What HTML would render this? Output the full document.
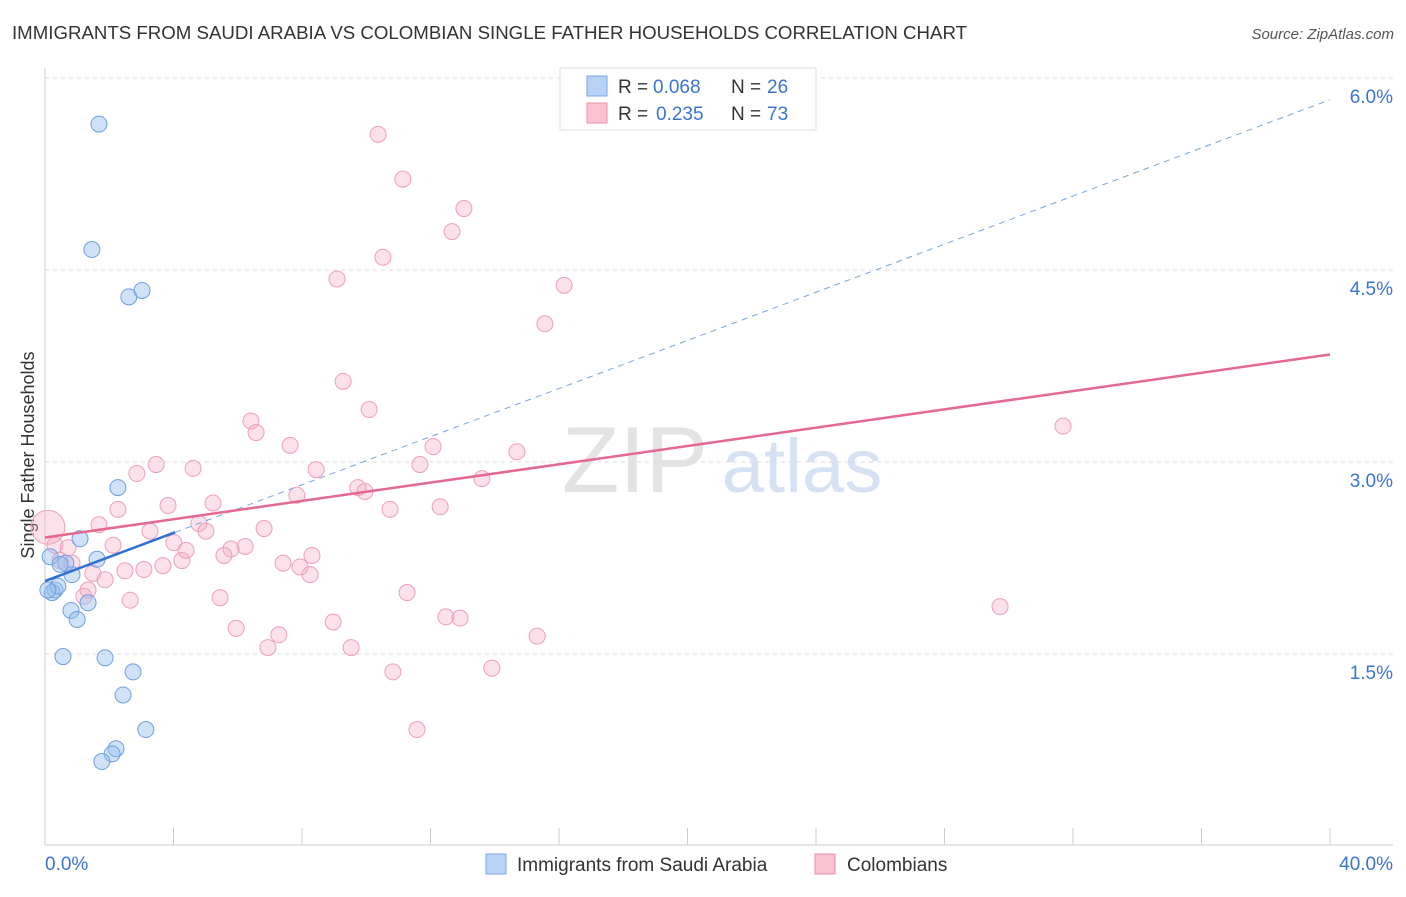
<!DOCTYPE html>
<html><head><meta charset="utf-8"><style>
body{margin:0;background:#fff;font-family:"Liberation Sans",sans-serif;}
svg text{font-family:"Liberation Sans",sans-serif;}
</style></head><body>
<svg id="c" width="1406" height="892">
<text x="12" y="39" font-size="18" fill="#333" textLength="955" lengthAdjust="spacingAndGlyphs">IMMIGRANTS FROM SAUDI ARABIA VS COLOMBIAN SINGLE FATHER HOUSEHOLDS CORRELATION CHART</text>
<text x="1394" y="39" font-size="15" fill="#555" text-anchor="end" font-style="italic">Source: ZipAtlas.com</text>
<text x="635" y="492" font-size="94" fill="#e3e3e3" font-family="Liberation Serif" text-anchor="middle">ZIP</text>
<text x="802" y="492" font-size="76" fill="#d6e2f3" text-anchor="middle">atlas</text>
<text transform="translate(34,455) rotate(-90)" font-size="18" fill="#333" text-anchor="middle">Single Father Households</text>
<g id="grid"></g><g id="pts"></g><g id="lines"></g>
<g>
<rect x="560" y="68" width="256" height="62" fill="#fff" stroke="#ddd"/>
<rect x="587" y="76" width="20" height="20" fill="#b8d3f5" stroke="#7aa7e0"/>
<rect x="587" y="103" width="20" height="20" fill="#f9c3d3" stroke="#ef8fab"/>
<text x="618" y="93" font-size="19" fill="#333">R =</text>
<text x="653" y="93" font-size="19" fill="#3b74d0">0.068</text>
<text x="731" y="93" font-size="19" fill="#333">N =</text>
<text x="767" y="93" font-size="19" fill="#3b74d0">26</text>
<text x="618" y="120" font-size="19" fill="#333">R =</text>
<text x="656" y="120" font-size="19" fill="#3b74d0">0.235</text>
<text x="731" y="120" font-size="19" fill="#333">N =</text>
<text x="767" y="120" font-size="19" fill="#3b74d0">73</text>
</g>
<g>
<rect x="486" y="854" width="20" height="20" fill="#b8d3f5" stroke="#7aa7e0"/>
<text x="517" y="871" font-size="19" fill="#333">Immigrants from Saudi Arabia</text>
<rect x="815" y="854" width="20" height="20" fill="#f9c3d3" stroke="#ef8fab"/>
<text x="847" y="871" font-size="19" fill="#333">Colombians</text>
</g>
</svg>
<script>
const xTicks=[0,4,8,12,16,20,24,28,32,36,40];
const yTicks=[1.5,3.0,4.5,6.0];
const blueX=[1.68,1.46,2.61,3.02,2.27,1.09,1.62,0.65,0.84,0.31,0.22,0.40,0.81,1.34,1.00,0.56,1.87,2.74,2.43,3.14,2.21,2.09,1.77,0.16,0.47,0.09];
const blueY=[5.64,4.66,4.29,4.34,2.80,2.40,2.24,2.21,2.12,2.00,1.98,2.03,1.84,1.90,1.77,1.48,1.47,1.36,1.18,0.91,0.76,0.72,0.66,2.26,2.20,2.00];
const pinkX=[10.37,11.14,13.04,12.67,10.52,9.09,16.16,15.56,9.28,10.09,6.41,6.57,31.69,7.63,12.08,14.69,3.46,4.61,2.86,8.44,11.67,13.60,9.74,9.96,7.84,5.23,3.83,2.27,10.74,12.30,1.68,4.79,3.27,6.82,5.01,4.01,2.12,5.79,6.23,4.39,8.31,5.57,4.26,7.41,3.67,7.94,3.08,2.49,8.25,1.49,1.87,0.31,0.47,1.34,1.21,11.27,2.65,5.45,29.73,12.48,12.92,8.97,5.95,7.28,15.32,6.94,9.53,13.91,10.83,11.58,0.84,0.72,0.09];
const pinkY=[5.56,5.21,4.98,4.80,4.60,4.43,4.38,4.08,3.63,3.41,3.32,3.23,3.28,3.13,3.12,3.08,2.98,2.95,2.91,2.94,2.98,2.87,2.80,2.77,2.74,2.68,2.66,2.63,2.63,2.65,2.51,2.52,2.46,2.48,2.46,2.37,2.35,2.32,2.34,2.31,2.27,2.27,2.23,2.21,2.19,2.18,2.16,2.15,2.12,2.13,2.08,2.35,2.23,2.00,1.95,1.98,1.92,1.94,1.87,1.79,1.78,1.75,1.70,1.65,1.64,1.55,1.55,1.39,1.36,0.91,2.21,2.33,2.49];
const pinkTrend=[2.41,3.84];
const blueTrend=[2.07,5.83];
const blueSolidEnd=4.05;
const X=v=>45+v*1285/40, Y=v=>846-v*128;
const NS="http://www.w3.org/2000/svg";
function mk(t,a,p){const e=document.createElementNS(NS,t);for(const k in a)e.setAttribute(k,a[k]);p.appendChild(e);return e;}
const g=document.getElementById('grid');
mk('line',{x1:45,y1:845,x2:1393,y2:845,stroke:'#ccc'},g);
mk('line',{x1:45,y1:68,x2:45,y2:845,stroke:'#ccc'},g);
yTicks.forEach(v=>{
 const l=mk('line',{x1:45,y1:Y(v),x2:1393,y2:Y(v),stroke:'#ddd','stroke-dasharray':'4,4'},g);
 
 
 const t=mk('text',{x:1393,y:Y(v)+25,'font-size':19,fill:'#3b74d0','text-anchor':'end'},g);
 t.textContent=v.toFixed(1)+'%';
 
 
});
xTicks.forEach(v=>{
 const l=mk('line',{x1:X(v),y1:828,x2:X(v),y2:845,stroke:'#ccc'},g);
 
 
});
[[0,'start',45],[40,'end',1393]].forEach(([v,a,x])=>{
 const t=mk('text',{x:x,y:870,'font-size':19,fill:'#3b74d0','text-anchor':a},g);
 t.textContent=v.toFixed(1)+'%';
 
 
});
const p=document.getElementById('pts');
pinkX.forEach((x,i)=>{
 const c=mk('circle',{cx:X(x),cy:Y(pinkY[i]),r:i==pinkX.length-1?17:8,fill:'rgba(246,170,195,0.35)',stroke:'#eda0b8','stroke-width':1},p);
 
 
});
blueX.forEach((x,i)=>{
 const c=mk('circle',{cx:X(x),cy:Y(blueY[i]),r:8,fill:'rgba(150,190,240,0.45)',stroke:'#6f9fdc','stroke-width':1},p);
 
 
});
const L=document.getElementById('lines');
const bAt=v=>blueTrend[0]+(blueTrend[1]-blueTrend[0])*v/40;
let d=mk('line',{x1:X(blueSolidEnd),y1:Y(bAt(blueSolidEnd)),x2:X(40),y2:Y(bAt(40)),stroke:'#7aa3dc','stroke-dasharray':'6,5','stroke-width':1},L);


d=mk('line',{x1:X(0),y1:Y(pinkTrend[0]),x2:X(40),y2:Y(pinkTrend[1]),stroke:'#e4688f','stroke-width':2.5},L);


d=mk('line',{x1:X(0),y1:Y(bAt(0)),x2:X(blueSolidEnd),y2:Y(bAt(blueSolidEnd)),stroke:'#2f6fd0','stroke-width':2.5},L);


</script>
</body></html>
